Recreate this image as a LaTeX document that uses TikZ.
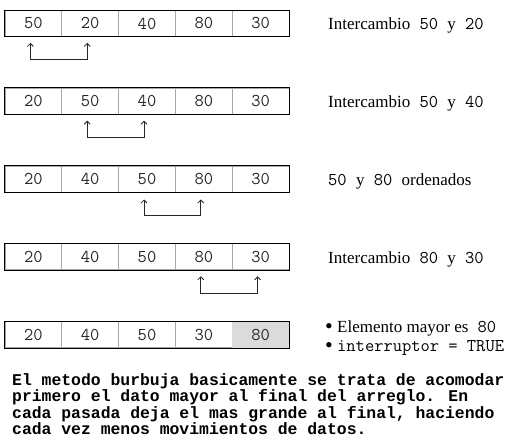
\documentclass[tikz,border=0pt]{standalone}
\usepackage{fontspec}
\usepackage{graphicx}
\usetikzlibrary{arrows.meta}
\setmainfont{Liberation Serif}
\newfontfamily\boldmono{Liberation Mono}
\newcommand{\mono}[1]{{\ttfamily\fontsize{18}{20}\selectfont #1}}
\newcommand{\bigdot}{\raisebox{-1pt}{\scalebox{1.3}{\textbullet}}}
\begin{document}
\begin{tikzpicture}[x=1pt, y=-1pt,
        cell/.style={draw=gray!70, line width=0.8pt, minimum width=56.8pt, minimum height=26pt, inner sep=0pt, text=black!85, font=\ttfamily\fontsize{18}{20}\selectfont},
        frame/.style={draw=black, line width=1pt},
        swap/.style={{Straight Barb[length=3pt,width=6pt]}-{Straight Barb[length=3pt,width=6pt]}, line width=0.8pt, draw=black!85},
        note/.style={anchor=base west, inner sep=0pt, font=\fontsize{17}{19}\selectfont}]
    \useasboundingbox (0,0) rectangle (530,446);

    % Pass 1: swap 50 and 20
    \foreach \v [count=\i] in {50,20,40,80,30}
        \node (a\i) [cell] at ({5+(\i-0.5)*56.8}, 23.5) {\v};
    \draw[frame] (a1.north west) rectangle (a5.south east);
    \draw[swap] ([xshift=-3pt, yshift=-6pt]a1.south) -- ++(0,17) -| ([xshift=-3pt, yshift=-6pt]a2.south);
    \node (l1) [note] at (328, 30) {Intercambio\mono{\ 50\ }y\mono{\ 20}};

    % Pass 2: swap 50 and 40
    \foreach \v [count=\i] in {20,50,40,80,30}
        \node (b\i) [cell] at ({5+(\i-0.5)*56.8}, 101.3) {\v};
    \draw[frame] (b1.north west) rectangle (b5.south east);
    \draw[swap] ([xshift=-3pt, yshift=-6pt]b2.south) -- ++(0,17) -| ([xshift=-3pt, yshift=-6pt]b3.south);
    \node (l2) [note] at (328, 107.8) {Intercambio\mono{\ 50\ }y\mono{\ 40}};

    % Pass 3: 50 and 80 already in order
    \foreach \v [count=\i] in {20,40,50,80,30}
        \node (c\i) [cell] at ({5+(\i-0.5)*56.8}, 179.1) {\v};
    \draw[frame] (c1.north west) rectangle (c5.south east);
    \draw[swap] ([xshift=-3pt, yshift=-7pt]c3.south) -- ++(0,16) -| ([xshift=-3pt, yshift=-7pt]c4.south);
    \node (l3) [note] at (328, 185.6) {\mono{50\ }y\mono{\ 80\ }ordenados};

    % Pass 4: swap 80 and 30
    \foreach \v [count=\i] in {20,40,50,80,30}
        \node (d\i) [cell] at ({5+(\i-0.5)*56.8}, 256.9) {\v};
    \draw[frame] (d1.north west) rectangle (d5.south east);
    \draw[swap] ([xshift=-3pt, yshift=-6pt]d4.south) -- ++(0,17) -| ([xshift=-3pt, yshift=-6pt]d5.south);
    \node (l4) [note] at (328, 263.4) {Intercambio\mono{\ 80\ }y\mono{\ 30}};

    % Result: largest element at the end
    \foreach \v [count=\i] in {20,40,50,30,80}
        \node (e\i) [cell] at ({5+(\i-0.5)*56.8}, 334.7) {\v};
    \fill[black!14] ([shift={(0.5pt,-0.5pt)}]e5.north west) rectangle ([shift={(-0.5pt,0.5pt)}]e5.south east);
    \node at (e5) [text=black!85, font=\ttfamily\fontsize{18}{20}\selectfont] {80};
    \draw[frame] (e1.north west) rectangle (e5.south east);
    \node (l5) [note, anchor=north west, align=left] at (325, 320.5)
        {\bigdot\ Elemento mayor es\mono{\ 80}\\
         \bigdot\ \mono{interruptor = TRUE}};

    % Explanation
    \node (txt) [anchor=north west, inner sep=0pt, align=left, font=\boldmono\bfseries\fontsize{16.4}{15.3}\selectfont] at (12, 373)
        {El metodo burbuja basicamente se trata de acomodar\\
         primero el dato mayor al final del arreglo. En\\
         cada pasada deja el mas grande al final, haciendo\\
         cada vez menos movimientos de datos.};
\end{tikzpicture}
\end{document}
